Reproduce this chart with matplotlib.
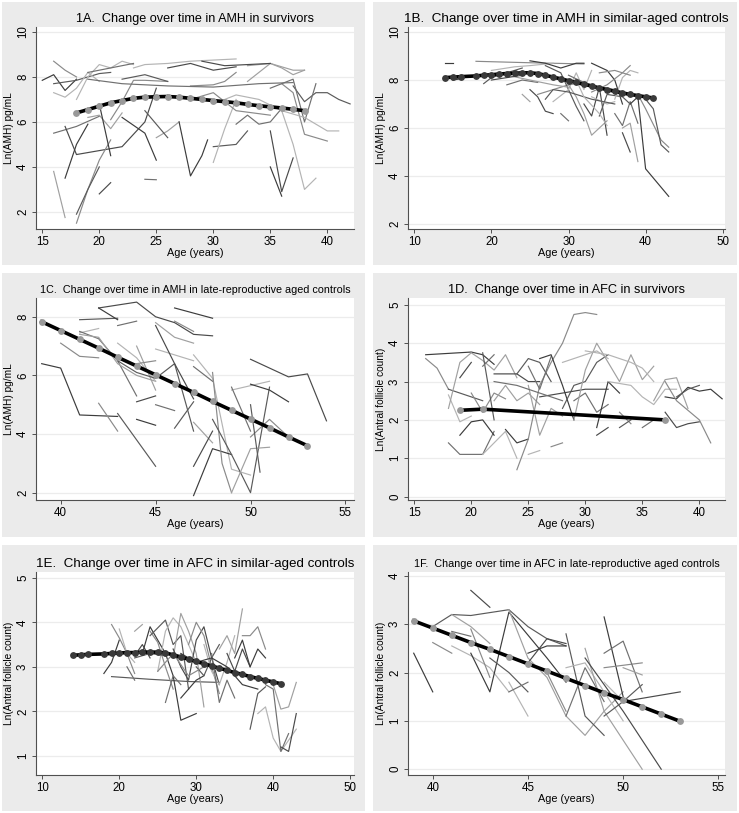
import matplotlib
matplotlib.use("Agg")
import matplotlib.pyplot as plt
from matplotlib.patches import Rectangle

plt.rcParams['font.family'] = ['Liberation Sans', 'DejaVu Sans']

# ---- 1A: AMH in survivors ----
a_mean_age = list(range(18, 39))
a_mean_val = [6.40, 6.55, 6.70, 6.85, 6.95, 7.05, 7.10, 7.12, 7.13, 7.10, 7.05,
              7.00, 6.95, 6.90, 6.85, 6.78, 6.72, 6.67, 6.62, 6.56, 6.50]
a_lines = [
    [(15, 7.85), (16, 8.1), (17, 7.4), (18, 7.9)],
    [(16, 8.7), (17, 8.3), (18, 8.0)],
    [(16, 7.7), (18, 7.85), (20, 8.15), (21, 8.2)],
    [(16, 7.3), (17, 7.1), (18, 7.5), (19, 8.2), (20, 7.8)],
    [(16, 5.5), (18, 5.8), (20, 6.25)],
    [(16, 3.8), (17, 1.75)],
    [(17, 5.8), (18, 4.55), (22, 4.9), (24, 6.0), (25, 7.5)],
    [(17, 3.5), (18, 5.0), (19, 5.9)],
    [(18, 1.5), (19, 3.0), (20, 4.3), (21, 5.2)],
    [(18, 1.9), (19, 3.0), (20, 4.0)],
    [(18, 7.0), (19, 8.0), (20, 8.55), (21, 8.4), (22, 8.7), (23, 8.55)],
    [(19, 8.2), (21, 8.4), (23, 8.6)],
    [(19, 6.2), (20, 6.3), (21, 5.7), (22, 6.4)],
    [(20, 2.8), (21, 3.3)],
    [(20, 6.8), (21, 4.5)],
    [(21, 6.1), (22, 6.9), (23, 7.85), (24, 7.85), (26, 7.8)],
    [(22, 7.9), (24, 8.1), (26, 7.8)],
    [(23, 8.4), (24, 8.55), (26, 8.6), (28, 8.7), (30, 8.75), (32, 8.8)],
    [(24, 3.45), (25, 3.43)],
    [(25, 5.3), (26, 5.6), (27, 6.0)],
    [(26, 8.4), (28, 8.6), (30, 8.3), (32, 8.45)],
    [(27, 6.0), (28, 3.6), (29, 4.5), (29.5, 5.2)],
    [(28, 7.6), (30, 7.65), (31, 7.8), (32, 8.2)],
    [(30, 4.9), (32, 5.0), (33, 5.6)],
    [(30, 4.2), (31, 5.7), (32, 7.0)],
    [(32, 5.9), (33, 6.3), (34, 5.9), (35, 6.0), (36, 6.6)],
    [(33, 7.8), (35, 8.6), (36, 8.4), (37, 8.1), (38, 8.3)],
    [(35, 5.6), (36, 2.9), (37, 4.4)],
    [(35, 4.0), (36, 2.7)],
    [(36, 7.7), (37, 7.3), (38, 5.45), (40, 5.15)],
    [(37, 7.6), (38, 6.9), (39, 7.3), (40, 7.3), (41, 7.0), (42, 6.8)],
    [(36, 6.5), (37, 5.0), (38, 3.0), (39, 3.5)],
    [(35, 7.5), (37, 7.9), (38, 6.0), (39, 7.7)],
    [(33, 8.5), (35, 8.6), (37, 8.3), (38, 8.3)],
    [(29, 8.7), (31, 8.5), (33, 8.55), (35, 8.6)],
    [(22, 6.2), (24, 5.5), (25, 4.3)],
    [(26, 7.2), (28, 7.0), (30, 7.3), (32, 6.5), (35, 6.3)],
    [(24, 6.5), (26, 5.3)],
    [(30, 6.8), (32, 7.2), (34, 7.0), (36, 6.5), (38, 6.2), (40, 5.6), (41, 5.6)],
    [(19, 7.9), (22, 7.7), (26, 7.6), (30, 7.55), (34, 7.7), (37, 7.75)],
]

# ---- 1B: AMH in similar-aged controls ----
b_mean_age = [14, 15, 16, 18, 19, 20, 21, 22, 23, 24, 25, 26, 27, 28, 29, 30,
              31, 32, 33, 34, 35, 36, 37, 38, 39, 40, 41]
b_mean_val = [8.10, 8.12, 8.14, 8.17, 8.20, 8.22, 8.25, 8.27, 8.28, 8.30, 8.30,
              8.27, 8.20, 8.12, 8.05, 7.97, 7.90, 7.82, 7.75, 7.67, 7.60, 7.53,
              7.46, 7.40, 7.35, 7.30, 7.25]
b_lines = [
    [(14, 8.7), (15, 8.7)],
    [(18, 8.78), (25, 8.72), (32, 8.67)],
    [(19, 7.85), (20, 8.1), (22, 8.3), (24, 8.5)],
    [(20, 8.4), (23, 8.55), (25, 8.6), (28, 8.7)],
    [(22, 7.8), (24, 8.0), (26, 7.9)],
    [(24, 7.4), (25, 7.1)],
    [(25, 7.6), (26, 7.3), (27, 6.7), (28, 6.6)],
    [(25, 8.8), (27, 8.7), (29, 8.5), (31, 8.7), (32, 8.7)],
    [(26, 7.4), (28, 7.6), (30, 7.8), (32, 7.9)],
    [(27, 8.6), (29, 8.3), (30, 7.6), (31, 6.9), (32, 6.3)],
    [(28, 7.1), (30, 7.6), (31, 8.3), (32, 7.6), (33, 8.4)],
    [(29, 6.6), (30, 6.3)],
    [(30, 7.8), (31, 7.3), (32, 6.6), (33, 5.7), (35, 6.3)],
    [(32, 7.0), (33, 6.5), (34, 7.7), (35, 5.7)],
    [(33, 8.7), (35, 8.4), (36, 8.0), (37, 7.0)],
    [(33, 7.5), (35, 7.8), (37, 8.3), (38, 8.6)],
    [(34, 6.5), (35, 7.4), (37, 7.3), (38, 7.0)],
    [(36, 7.2), (37, 8.1), (38, 8.4), (39, 8.3)],
    [(36, 6.6), (37, 6.1), (38, 7.1), (39, 6.2)],
    [(37, 6.0), (38, 6.2), (39, 4.6)],
    [(37, 5.8), (38, 5.0)],
    [(38, 7.0), (39, 7.3), (40, 4.3), (43, 3.15)],
    [(39, 7.4), (40, 6.8), (42, 5.5), (43, 5.2)],
    [(40, 7.2), (41, 6.8), (42, 5.3), (43, 5.0)],
    [(33, 7.3), (35, 7.0), (36, 7.1)],
    [(30, 8.2), (32, 7.9), (34, 7.7), (36, 7.6), (38, 7.4)],
    [(22, 8.2), (25, 8.0), (28, 7.8), (30, 7.7)],
    [(20, 8.0), (22, 8.1), (24, 8.2)],
    [(15, 8.0), (16, 8.05)],
    [(34, 8.3), (36, 8.4), (38, 8.2)],
    [(27, 7.2), (28, 7.6), (30, 7.5), (33, 7.2), (36, 7.0)],
    [(31, 8.0), (32, 7.3), (34, 6.6), (35, 6.1)],
]

# ---- 1C: AMH in late-reproductive aged controls ----
c_mean_age = list(range(39, 54))
c_mean_val = [7.83, 7.53, 7.23, 6.93, 6.62, 6.32, 6.02, 5.72, 5.42, 5.11,
              4.81, 4.51, 4.21, 3.90, 3.60]
c_lines = [
    [(39, 6.4), (40, 6.25), (41, 4.65), (43, 4.6)],
    [(40, 7.1), (41, 6.65), (42, 6.6)],
    [(41, 7.9), (43, 7.95)],
    [(41, 7.45), (42, 7.6)],
    [(41, 7.5), (42, 7.25), (43, 6.5), (44, 5.3)],
    [(41, 7.4), (42, 7.3), (43, 6.4), (44, 6.0), (45, 5.8)],
    [(42, 8.3), (43, 8.4), (44, 8.5), (45, 8.0), (46, 7.8), (47, 7.4), (48, 7.35)],
    [(42, 8.3), (43, 7.9)],
    [(42, 5.05), (43, 4.1)],
    [(43, 4.7), (45, 2.9)],
    [(43, 7.1), (44, 6.6), (45, 5.8)],
    [(43, 7.7), (44, 7.85)],
    [(44, 7.0), (45, 5.5)],
    [(44, 5.1), (45, 5.3)],
    [(44, 4.5), (45, 4.3)],
    [(44, 6.4), (45, 6.5)],
    [(43, 6.5), (44, 6.1), (45, 5.9), (46, 6.4), (47, 4.1)],
    [(45, 6.9), (47, 6.5)],
    [(45, 5.0), (46, 4.8)],
    [(45, 7.8), (46, 7.3), (47, 7.1)],
    [(45, 7.7), (46, 6.4), (47, 5.2)],
    [(46, 8.3), (48, 7.95)],
    [(46, 7.85), (47, 7.5)],
    [(46, 4.2), (47, 5.1)],
    [(47, 6.7), (48, 5.9), (49, 2.8), (50, 2.6)],
    [(47, 6.3), (48, 5.8)],
    [(47, 4.4), (48, 3.7)],
    [(47, 2.9), (48, 4.1)],
    [(47, 1.9), (48, 3.5), (49, 3.3)],
    [(48, 6.1), (48.5, 3.0), (49, 2.0)],
    [(48, 4.5), (49, 3.3), (50, 2.0), (51, 5.6)],
    [(49, 5.5), (50, 5.65), (51, 5.8)],
    [(49, 5.6), (50, 4.1)],
    [(49, 2.0), (50, 3.5), (51, 3.55)],
    [(50, 6.55), (52, 5.95), (53, 6.05), (54, 4.45)],
    [(50, 5.7), (51, 5.5), (52, 5.1)],
    [(50, 3.9), (51, 4.5), (52, 3.9)],
    [(50, 5.0), (50.5, 2.7)],
]

# ---- 1D: AFC in survivors ----
d_mean_age = [19, 21, 37]
d_mean_val = [2.25, 2.28, 2.00]
d_lines = [
    [(16, 3.7), (20, 3.77), (21, 3.7), (22, 3.45)],
    [(16, 3.6), (17, 3.35), (18, 2.8)],
    [(18, 2.8), (19, 2.7), (21, 2.5)],
    [(18, 2.65), (19, 1.95), (20, 2.1)],
    [(18, 1.4), (19, 1.1), (21, 1.1), (22, 1.7)],
    [(18, 2.3), (19, 3.5), (20, 3.75), (21, 3.55), (22, 3.3), (23, 3.7), (24, 3.1)],
    [(19, 3.1), (20, 3.5)],
    [(19, 1.6), (20, 1.95), (21, 2.0), (22, 1.6)],
    [(20, 2.7), (21, 2.2), (22, 2.7), (23, 2.55)],
    [(21, 3.75), (22, 2.0)],
    [(21, 1.1), (22, 1.4), (23, 1.7), (24, 1.0)],
    [(21, 3.4), (22, 3.7)],
    [(22, 2.5), (23, 2.9), (24, 2.5), (25, 2.7), (26, 2.4)],
    [(22, 3.2), (24, 3.2), (25, 3.0), (26, 3.0)],
    [(23, 1.75), (24, 1.4), (25, 1.5)],
    [(24, 0.7), (25, 1.5), (26, 2.9), (27, 3.5), (28, 4.0), (29, 4.75), (30, 4.8), (31, 4.75)],
    [(24, 3.2), (25, 3.6), (26, 3.5), (27, 3.0)],
    [(25, 1.1), (26, 1.2)],
    [(25, 3.4), (26, 2.8), (27, 3.65)],
    [(25, 2.9), (26, 1.6), (27, 2.3), (28, 2.1)],
    [(26, 2.6), (28, 2.7), (30, 2.8), (32, 2.8)],
    [(26, 3.6), (27, 3.7), (28, 2.9), (29, 2.0)],
    [(27, 1.3), (28, 1.4)],
    [(28, 2.3), (29, 2.9), (30, 3.0), (31, 3.5), (32, 3.7)],
    [(28, 3.5), (29, 3.6), (30, 3.7), (31, 3.8), (32, 3.6)],
    [(29, 2.5), (30, 2.7), (31, 2.2), (32, 2.4)],
    [(29, 2.0), (30, 3.3), (31, 4.0), (32, 3.5), (33, 3.0), (34, 3.7), (35, 3.05), (36, 3.4)],
    [(31, 1.6), (32, 1.8)],
    [(31, 1.8), (32, 3.0), (33, 2.7)],
    [(33, 2.2), (34, 1.9)],
    [(33, 1.8), (34, 2.0)],
    [(32, 3.0), (34, 2.9), (35, 2.6), (36, 2.4), (37, 2.8), (38, 2.8)],
    [(35, 1.8), (36, 2.0)],
    [(36, 2.5), (37, 3.05), (38, 3.1), (39, 2.3)],
    [(37, 2.2), (38, 1.8), (39, 1.9), (40, 1.95)],
    [(37, 2.6), (38, 2.55), (39, 2.85), (40, 2.75), (41, 2.8), (42, 2.55)],
    [(37, 3.0), (38, 2.5), (40, 2.0), (41, 1.4)],
    [(38, 2.6), (39, 2.8), (40, 2.9)],
    [(30, 3.8), (32, 3.7), (34, 3.5), (35, 3.35), (36, 3.0)],
    [(22, 3.0), (24, 2.9), (26, 2.7), (28, 2.5)],
]

# ---- 1E: AFC in similar-aged controls ----
e_mean_age = [14, 15, 16, 18, 19, 20, 21, 22, 23, 24, 25, 26, 27, 28, 29, 30,
              31, 32, 33, 34, 35, 36, 37, 38, 39, 40, 41]
e_mean_val = [3.26, 3.27, 3.28, 3.29, 3.30, 3.31, 3.32, 3.32, 3.33, 3.33, 3.33,
              3.31, 3.27, 3.22, 3.17, 3.12, 3.07, 3.02, 2.97, 2.92, 2.87, 2.83,
              2.78, 2.74, 2.70, 2.66, 2.62]
e_lines = [
    [(18, 2.85), (19, 3.1), (20, 3.6)],
    [(19, 3.95), (20, 3.65), (21, 3.3), (22, 2.85)],
    [(19, 2.78), (24, 2.72), (29, 2.67), (33, 2.65)],
    [(20, 3.85), (21, 3.3), (22, 3.1)],
    [(21, 3.0), (22, 2.7)],
    [(22, 3.8), (23, 3.95)],
    [(22, 3.25), (23, 3.5), (24, 3.2)],
    [(23, 3.3), (24, 3.9), (25, 3.6), (26, 3.3), (27, 2.8), (28, 1.8), (30, 1.95)],
    [(24, 3.8), (25, 3.55), (26, 3.0), (27, 2.5)],
    [(24, 3.7), (26, 4.05), (27, 3.5), (28, 3.7), (29, 2.5)],
    [(25, 2.9), (26, 3.8), (27, 4.1), (28, 3.9), (29, 3.5), (30, 3.1)],
    [(26, 2.2), (27, 2.8), (28, 2.6)],
    [(27, 3.2), (28, 4.2), (29, 3.8), (30, 3.3), (31, 2.1)],
    [(27, 3.4), (28, 3.0), (29, 2.7), (30, 3.6), (31, 3.9), (32, 3.2), (33, 2.6)],
    [(28, 2.3), (29, 2.5), (30, 2.7), (31, 2.8)],
    [(29, 3.5), (30, 4.0), (31, 3.7), (32, 3.0), (33, 2.4)],
    [(30, 3.0), (31, 2.8), (32, 3.2), (33, 3.5)],
    [(31, 3.5), (32, 2.9), (33, 2.6), (34, 3.1), (35, 3.7)],
    [(32, 3.3), (33, 2.2), (34, 2.7), (35, 2.3)],
    [(33, 3.4), (34, 3.7), (35, 3.3), (36, 4.3)],
    [(34, 3.3), (35, 2.9), (36, 3.4), (37, 3.0)],
    [(35, 3.2), (36, 3.6), (37, 3.0), (38, 3.4), (39, 3.2)],
    [(36, 3.7), (37, 3.7), (38, 3.9), (39, 3.4)],
    [(37, 1.6), (38, 2.4), (39, 2.55)],
    [(38, 1.95), (39, 2.1), (40, 1.4), (41, 1.1), (43, 1.6)],
    [(39, 2.6), (40, 2.5), (41, 1.1), (42, 1.5)],
    [(40, 2.6), (41, 2.05), (42, 2.1), (43, 2.65)],
    [(41, 1.2), (42, 1.1), (43, 1.95)],
    [(28, 3.3), (30, 3.1), (32, 3.2), (34, 3.0), (36, 2.6), (38, 2.5)],
    [(25, 2.9), (27, 3.3), (29, 2.8), (31, 3.0)],
    [(22, 3.2), (24, 3.3), (26, 3.25)],
]

# ---- 1F: AFC in late-reproductive aged controls ----
f_mean_age = list(range(39, 54))
f_mean_val = [3.07, 2.92, 2.77, 2.62, 2.48, 2.33, 2.18, 2.03, 1.88, 1.73,
              1.58, 1.44, 1.29, 1.14, 0.99]
f_lines = [
    [(39, 2.4), (40, 1.6)],
    [(40, 2.62), (41, 2.4)],
    [(40, 2.95), (41, 3.2), (42, 3.18), (44, 3.3), (45, 2.95), (46, 2.7), (47, 2.55)],
    [(41, 2.55), (42, 2.35), (43, 2.1), (44, 1.6)],
    [(41, 2.85), (42, 2.75)],
    [(41, 3.2), (42, 2.95), (43, 2.6)],
    [(42, 3.7), (43, 3.35)],
    [(42, 2.4), (43, 1.6), (44, 3.25), (46, 2.3), (47, 1.8)],
    [(42, 2.9), (43, 1.9)],
    [(43, 2.3), (44, 2.0), (45, 1.6)],
    [(44, 1.8), (45, 1.1)],
    [(44, 1.6), (45, 1.8)],
    [(44, 3.3), (45, 2.3), (46, 1.9), (47, 1.1), (48, 0.7), (49, 1.2), (50, 1.6)],
    [(45, 2.2), (46, 2.7), (47, 2.6)],
    [(45, 2.4), (46, 2.55), (47, 2.55)],
    [(46, 2.0), (47, 1.2)],
    [(47, 2.8), (48, 1.1), (49, 0.7)],
    [(47, 2.1), (48, 2.2), (49, 1.6), (50, 1.0)],
    [(47, 1.1), (48, 2.1), (49, 1.4)],
    [(48, 2.5), (49, 1.2), (51, 0.0)],
    [(48, 2.3), (50, 1.2), (52, 0.0)],
    [(49, 3.15), (50, 1.5)],
    [(49, 2.1), (51, 2.2)],
    [(49, 1.1), (50, 1.4), (51, 1.75)],
    [(49, 1.8), (50, 1.4)],
    [(49, 2.4), (50, 2.65), (51, 1.6)],
    [(50, 2.1), (51, 1.95)],
    [(50, 1.4), (53, 1.6)],
]

W, H = 739, 813
fig = plt.figure(figsize=(W / 100, H / 100), dpi=100, facecolor='white')

grays = ['#3c3c3c', '#8a8a8a', '#5a5a5a', '#b4b4b4', '#707070', '#a0a0a0', '#4a4a4a']


def pbox(x0, y0, x1, y1):
    fig.add_artist(Rectangle((x0 / W, 1 - y1 / H), (x1 - x0) / W, (y1 - y0) / H,
                             transform=fig.transFigure, facecolor='#ebebeb',
                             edgecolor='none', zorder=0))


def panel(l, r, t, b, title, tsize, ylab, lines, mage, mval, mcol,
          xlim, ylim, xticks, yticks):
    ax = fig.add_axes([l / W, 1 - b / H, (r - l) / W, (b - t) / H])
    ax.set_facecolor('white')
    for i, tr in enumerate(lines):
        xs = [p[0] for p in tr]
        ys = [p[1] for p in tr]
        ax.plot(xs, ys, color=grays[i % len(grays)], lw=0.85, zorder=2)
    ax.plot(mage, mval, color='black', lw=2.6, zorder=3,
            marker='o', ms=3.9, mfc=mcol, mec=mcol)
    ax.set_xlim(*xlim)
    ax.set_ylim(*ylim)
    ax.set_xticks(xticks)
    ax.set_yticks(yticks)
    ax.grid(axis='y', color='#ececec', lw=0.9, zorder=0)
    ax.set_axisbelow(True)
    for s in ['top', 'right']:
        ax.spines[s].set_visible(False)
    for s in ['left', 'bottom']:
        ax.spines[s].set_color('#505050')
        ax.spines[s].set_linewidth(0.8)
    ax.tick_params(length=3, width=0.7, color='#505050', labelsize=8.3, pad=2)
    for lab in ax.get_yticklabels():
        lab.set_rotation(90)
        lab.set_va('center')
    ax.set_xlabel('Age (years)', fontsize=7.8, labelpad=0)
    ax.set_ylabel(ylab, fontsize=7.3, labelpad=2)
    ax.set_title(title, fontsize=tsize, pad=3.5)
    return ax


pbox(2, 2, 365, 265)
pbox(373, 2, 737, 265)
pbox(2, 273, 365, 537)
pbox(373, 273, 737, 537)
pbox(2, 545, 365, 811)
pbox(373, 545, 737, 811)

amh = 'Ln(AMH) pg/mL'
afc = 'Ln(Antral follicle count)'

panel(36, 354, 27, 229, '1A.  Change over time in AMH in survivors', 9.1, amh,
      a_lines, a_mean_age, a_mean_val, '#999999',
      (14.45, 42.34), (1.24, 10.22), [15, 20, 25, 30, 35, 40], [2, 4, 6, 8, 10])
panel(408, 725, 27, 229, '1B.  Change over time in AMH in similar-aged controls', 9.7, amh,
      b_lines, b_mean_age, b_mean_val, '#3a3a3a',
      (9.18, 50.3), (1.79, 10.21), [10, 20, 30, 40, 50], [2, 4, 6, 8, 10])
panel(36, 354, 298, 500, '1C.  Change over time in AMH in late-reproductive aged controls', 7.75, amh,
      c_lines, c_mean_age, c_mean_val, '#999999',
      (38.7, 55.45), (1.75, 8.64), [40, 45, 50, 55], [2, 4, 6, 8])
panel(408, 725, 298, 500, '1D.  Change over time in AFC in survivors', 9.2, afc,
      d_lines, d_mean_age, d_mean_val, '#999999',
      (14.45, 42.25), (-0.09, 5.18), [15, 20, 25, 30, 35, 40], [0, 1, 2, 3, 4, 5])
panel(36, 354, 572, 775, '1E.  Change over time in AFC in similar-aged controls', 9.6, afc,
      e_lines, e_mean_age, e_mean_val, '#3a3a3a',
      (9.18, 50.5), (0.57, 5.13), [10, 20, 30, 40, 50], [1, 2, 3, 4, 5])
panel(408, 725, 572, 775, '1F.  Change over time in AFC in late-reproductive aged controls', 7.75, afc,
      f_lines, f_mean_age, f_mean_val, '#999999',
      (38.7, 55.35), (-0.12, 4.08), [40, 45, 50, 55], [0, 1, 2, 3, 4])

plt.savefig('out.png', dpi=100, facecolor='white')
